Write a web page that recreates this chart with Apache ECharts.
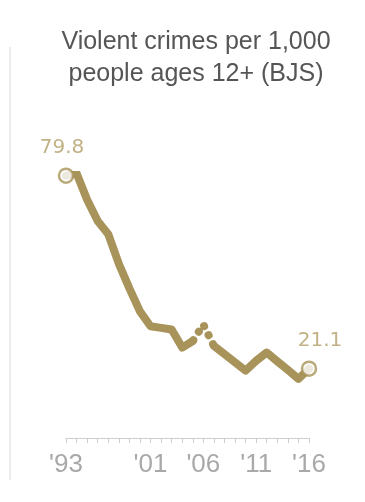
<!DOCTYPE html>
<html>
<head>
<meta charset="utf-8">
<script src="https://cdn.jsdelivr.net/npm/echarts@6/dist/echarts.min.js"></script>
<style>
html,body{margin:0;padding:0;background:#fff;}
#c{width:365px;height:502px;}
</style>
</head>
<body>
<div id="c"></div>
<script>
// Data
const titleText = "Violent crimes per 1,000\npeople ages 12+ (BJS)";
const years = [1993,1994,1995,1996,1997,1998,1999,2000,2001,2002,2003,2004,2005,2006,2007,2008,2009,2010,2011,2012,2013,2014,2015,2016];
const rates = [79.8,80.5,72.5,66,62,53,45.5,38.5,34,33.5,33,27.5,29.5,34.5,28,25.5,23,20.5,23.5,26,23.3,20.7,18,21.1];
const breakYears = [2005,2006,2007];          // dotted segment (survey redesign)
const tickLabels = {1993:"'93",2001:"'01",2006:"'06",2011:"'11",2016:"'16"};
const endYears = [1993,2016];

const GOLD = '#a8935a';
const pts = years.map((y,i)=>[y,rates[i]]);
const seg1 = pts.filter(p=>p[0]<=breakYears[0]);
const segBreak = pts.filter(p=>breakYears.includes(p[0]));
const seg2 = pts.filter(p=>p[0]>=breakYears[breakYears.length-1]);
const ends = pts.filter(p=>endYears.includes(p[0]));

const chart = echarts.init(document.getElementById('c'), null, {renderer:'canvas'});
chart.setOption({
  animation:false,
  title:{
    text:titleText,
    left:191, top:21, textAlign:'center',
    textStyle:{fontFamily:'Liberation Sans',fontSize:25,fontWeight:'normal',color:'#555',lineHeight:32}
  },
  graphic:[{type:'line',shape:{x1:10,y1:47,x2:10,y2:480},style:{stroke:'#ececec',lineWidth:2}}],
  grid:{left:66,right:56,top:175,bottom:64},
  xAxis:{
    type:'value',min:1993,max:2016,interval:1,offset:5,
    axisLine:{show:true,lineStyle:{color:'#cfcfcf',width:1}},
    axisTick:{show:true,length:5,lineStyle:{color:'#cfcfcf'}},
    splitLine:{show:false},
    axisLabel:{
      margin:9,fontFamily:'Liberation Sans',fontSize:26,color:'#a9a9a9',
      formatter:v=>tickLabels[v]||'', showMinLabel:true, showMaxLabel:true
    }
  },
  yAxis:{type:'value',min:0,max:80,show:false},
  series:[
    {type:'line',data:seg1,symbol:'none',lineStyle:{color:GOLD,width:8,cap:'round',join:'round'},z:2},
    {type:'line',data:segBreak,symbol:'none',lineStyle:{color:GOLD,width:8,type:[0.1,10],dashOffset:-1,cap:'round',join:'round'},z:2},
    {type:'line',data:seg2,symbol:'none',lineStyle:{color:GOLD,width:8,cap:'round',join:'round'},z:2},
    {type:'scatter',data:ends.map((p,i)=>({value:p,label:{offset:i===0?[-4,0]:[11,0]}})),
     symbol:'circle',symbolSize:14,z:5,
     itemStyle:{color:'#fff',borderColor:GOLD,borderWidth:2.5},
     label:{show:true,position:'top',distance:10,fontFamily:'DejaVu Sans',fontSize:20,color:'#b19e66',
       formatter:p=>p.value[1].toFixed(1)}
    }
  ]
});
</script>
</body>
</html>
